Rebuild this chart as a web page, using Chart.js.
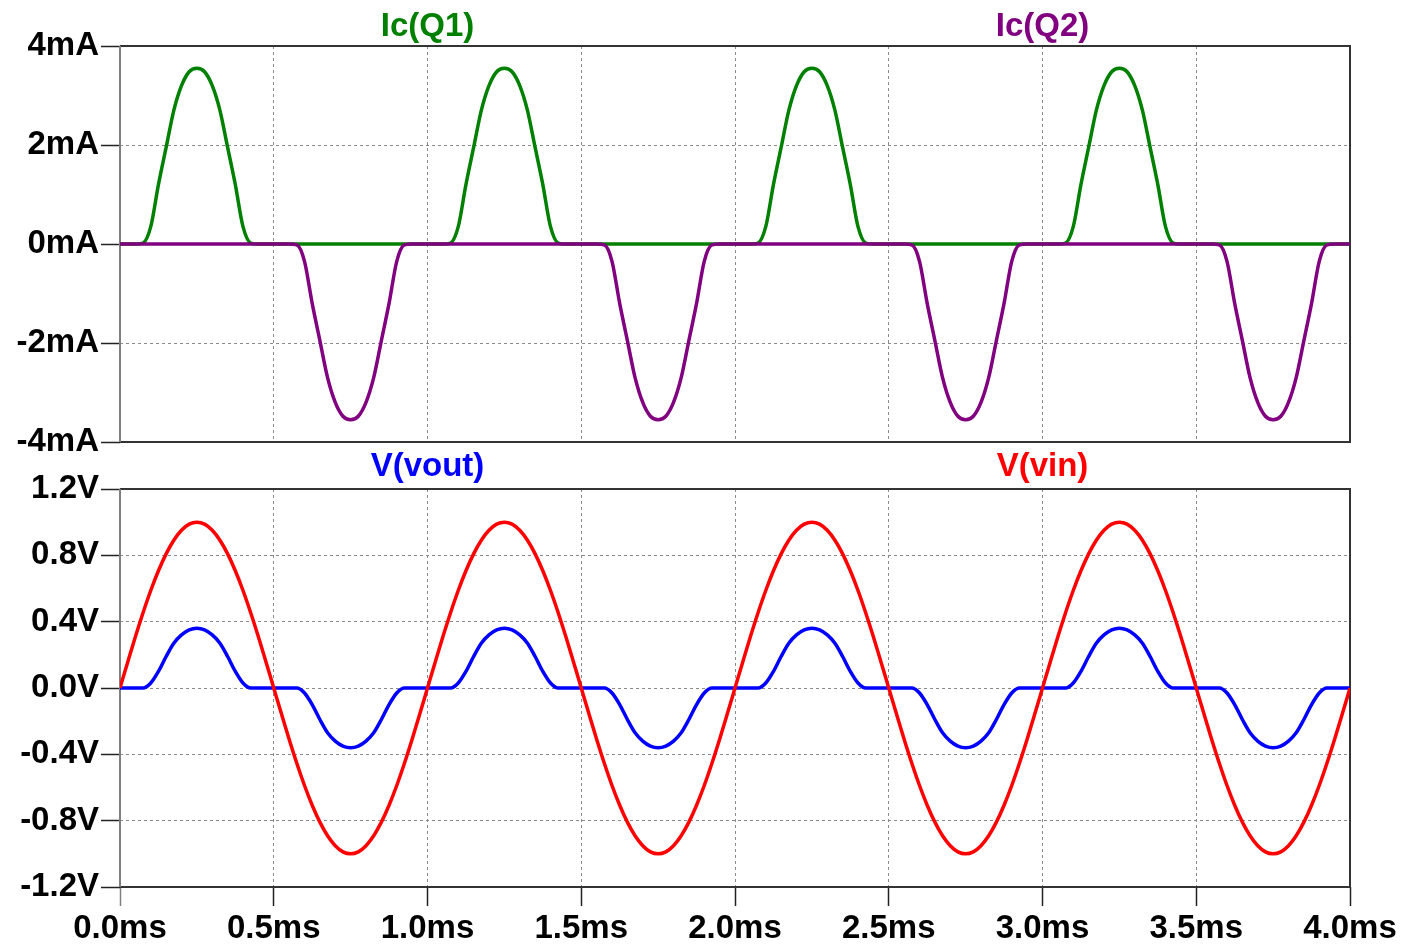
<!DOCTYPE html>
<html>
<head>
<meta charset="utf-8">
<script src="https://cdn.jsdelivr.net/npm/chart.js@4/dist/chart.umd.min.js"></script>
<style>
  body { margin: 0; background: #fff; }
  #wrap { position: relative; width: 1402px; height: 946px; }
  #topChart { position: absolute; left: 0; top: 0; }
  #bottomChart { position: absolute; left: 0; top: 446px; }
</style>
</head>
<body>
<div id="wrap">
  <canvas id="topChart" width="1402" height="464"></canvas>
  <canvas id="bottomChart" width="1402" height="500"></canvas>
</div>
<script>
// time axis, ms
const timeMs = [
  0,0.025,0.05,0.075,0.1,0.125,0.15,0.175,0.2,0.225,0.25,0.275,0.3,0.325,0.35,0.375,0.4,0.425,0.45,0.475,
  0.5,0.525,0.55,0.575,0.6,0.625,0.65,0.675,0.7,0.725,0.75,0.775,0.8,0.825,0.85,0.875,0.9,0.925,0.95,0.975,
  1,1.025,1.05,1.075,1.1,1.125,1.15,1.175,1.2,1.225,1.25,1.275,1.3,1.325,1.35,1.375,1.4,1.425,1.45,1.475,
  1.5,1.525,1.55,1.575,1.6,1.625,1.65,1.675,1.7,1.725,1.75,1.775,1.8,1.825,1.85,1.875,1.9,1.925,1.95,1.975,
  2,2.025,2.05,2.075,2.1,2.125,2.15,2.175,2.2,2.225,2.25,2.275,2.3,2.325,2.35,2.375,2.4,2.425,2.45,2.475,
  2.5,2.525,2.55,2.575,2.6,2.625,2.65,2.675,2.7,2.725,2.75,2.775,2.8,2.825,2.85,2.875,2.9,2.925,2.95,2.975,
  3,3.025,3.05,3.075,3.1,3.125,3.15,3.175,3.2,3.225,3.25,3.275,3.3,3.325,3.35,3.375,3.4,3.425,3.45,3.475,
  3.5,3.525,3.55,3.575,3.6,3.625,3.65,3.675,3.7,3.725,3.75,3.775,3.8,3.825,3.85,3.875,3.9,3.925,3.95,3.975,
  4
];

// Ic(Q1), mA
const icQ1 = [
  0,0,0,0.02,0.35,1.2,1.95,2.7,3.2,3.48,3.55,3.48,3.2,2.7,1.95,1.2,0.35,0.02,0,0,
  0,0,0,0,0,0,0,0,0,0,0,0,0,0,0,0,0,0,0,0,
  0,0,0,0.02,0.35,1.2,1.95,2.7,3.2,3.48,3.55,3.48,3.2,2.7,1.95,1.2,0.35,0.02,0,0,
  0,0,0,0,0,0,0,0,0,0,0,0,0,0,0,0,0,0,0,0,
  0,0,0,0.02,0.35,1.2,1.95,2.7,3.2,3.48,3.55,3.48,3.2,2.7,1.95,1.2,0.35,0.02,0,0,
  0,0,0,0,0,0,0,0,0,0,0,0,0,0,0,0,0,0,0,0,
  0,0,0,0.02,0.35,1.2,1.95,2.7,3.2,3.48,3.55,3.48,3.2,2.7,1.95,1.2,0.35,0.02,0,0,
  0,0,0,0,0,0,0,0,0,0,0,0,0,0,0,0,0,0,0,0,
  0
];

// Ic(Q2), mA
const icQ2 = [
  0,0,0,0,0,0,0,0,0,0,0,0,0,0,0,0,0,0,0,0,
  0,0,0,-0.02,-0.35,-1.2,-1.95,-2.7,-3.2,-3.48,-3.55,-3.48,-3.2,-2.7,-1.95,-1.2,-0.35,-0.02,0,0,
  0,0,0,0,0,0,0,0,0,0,0,0,0,0,0,0,0,0,0,0,
  0,0,0,-0.02,-0.35,-1.2,-1.95,-2.7,-3.2,-3.48,-3.55,-3.48,-3.2,-2.7,-1.95,-1.2,-0.35,-0.02,0,0,
  0,0,0,0,0,0,0,0,0,0,0,0,0,0,0,0,0,0,0,0,
  0,0,0,-0.02,-0.35,-1.2,-1.95,-2.7,-3.2,-3.48,-3.55,-3.48,-3.2,-2.7,-1.95,-1.2,-0.35,-0.02,0,0,
  0,0,0,0,0,0,0,0,0,0,0,0,0,0,0,0,0,0,0,0,
  0,0,0,-0.02,-0.35,-1.2,-1.95,-2.7,-3.2,-3.48,-3.55,-3.48,-3.2,-2.7,-1.95,-1.2,-0.35,-0.02,0,0,
  0
];

// V(vout), V
const vOut = [
  0,0,0,0,0.03,0.10,0.19,0.27,0.32,0.35,0.36,0.35,0.32,0.27,0.19,0.10,0.03,0,0,0,
  0,0,0,0,-0.03,-0.10,-0.19,-0.27,-0.32,-0.35,-0.36,-0.35,-0.32,-0.27,-0.19,-0.10,-0.03,0,0,0,
  0,0,0,0,0.03,0.10,0.19,0.27,0.32,0.35,0.36,0.35,0.32,0.27,0.19,0.10,0.03,0,0,0,
  0,0,0,0,-0.03,-0.10,-0.19,-0.27,-0.32,-0.35,-0.36,-0.35,-0.32,-0.27,-0.19,-0.10,-0.03,0,0,0,
  0,0,0,0,0.03,0.10,0.19,0.27,0.32,0.35,0.36,0.35,0.32,0.27,0.19,0.10,0.03,0,0,0,
  0,0,0,0,-0.03,-0.10,-0.19,-0.27,-0.32,-0.35,-0.36,-0.35,-0.32,-0.27,-0.19,-0.10,-0.03,0,0,0,
  0,0,0,0,0.03,0.10,0.19,0.27,0.32,0.35,0.36,0.35,0.32,0.27,0.19,0.10,0.03,0,0,0,
  0,0,0,0,-0.03,-0.10,-0.19,-0.27,-0.32,-0.35,-0.36,-0.35,-0.32,-0.27,-0.19,-0.10,-0.03,0,0,0,
  0
];

// V(vin), V
const vIn = [
  0,0.156,0.309,0.454,0.588,0.707,0.809,0.891,0.951,0.988,1,0.988,0.951,0.891,0.809,0.707,0.588,0.454,0.309,0.156,
  0,-0.156,-0.309,-0.454,-0.588,-0.707,-0.809,-0.891,-0.951,-0.988,-1,-0.988,-0.951,-0.891,-0.809,-0.707,-0.588,-0.454,-0.309,-0.156,
  0,0.156,0.309,0.454,0.588,0.707,0.809,0.891,0.951,0.988,1,0.988,0.951,0.891,0.809,0.707,0.588,0.454,0.309,0.156,
  0,-0.156,-0.309,-0.454,-0.588,-0.707,-0.809,-0.891,-0.951,-0.988,-1,-0.988,-0.951,-0.891,-0.809,-0.707,-0.588,-0.454,-0.309,-0.156,
  0,0.156,0.309,0.454,0.588,0.707,0.809,0.891,0.951,0.988,1,0.988,0.951,0.891,0.809,0.707,0.588,0.454,0.309,0.156,
  0,-0.156,-0.309,-0.454,-0.588,-0.707,-0.809,-0.891,-0.951,-0.988,-1,-0.988,-0.951,-0.891,-0.809,-0.707,-0.588,-0.454,-0.309,-0.156,
  0,0.156,0.309,0.454,0.588,0.707,0.809,0.891,0.951,0.988,1,0.988,0.951,0.891,0.809,0.707,0.588,0.454,0.309,0.156,
  0,-0.156,-0.309,-0.454,-0.588,-0.707,-0.809,-0.891,-0.951,-0.988,-1,-0.988,-0.951,-0.891,-0.809,-0.707,-0.588,-0.454,-0.309,-0.156,
  0
];

// ticks
const msTicks = [0, 0.5, 1, 1.5, 2, 2.5, 3, 3.5, 4];
const msTickLabels = ['0.0ms','0.5ms','1.0ms','1.5ms','2.0ms','2.5ms','3.0ms','3.5ms','4.0ms'];
const mATicks = [-4, -2, 0, 2, 4];
const mATickLabels = ['-4mA','-2mA','0mA','2mA','4mA'];
const vTicks = [-1.2, -0.8, -0.4, 0, 0.4, 0.8, 1.2];
const vTickLabels = ['-1.2V','-0.8V','-0.4V','0.0V','0.4V','0.8V','1.2V'];

const FONT = { family: "'Liberation Sans', Arial, sans-serif", size: 33, weight: 'bold' };

function toPoints(ys) {
  return timeMs.map((t, i) => ({ x: t, y: ys[i] }));
}

// frame around the plot area
const framePlugin = {
  id: 'frame',
  beforeDatasetsDraw(chart) {
    const { ctx, chartArea: a } = chart;
    ctx.save();
    ctx.lineWidth = 2;
    ctx.strokeStyle = '#333';
    ctx.beginPath();
    ctx.moveTo(a.left, a.top);
    ctx.lineTo(a.right, a.top);
    ctx.lineTo(a.right, a.bottom);
    ctx.lineTo(a.left, a.bottom);
    ctx.stroke();
    ctx.strokeStyle = '#808080';
    ctx.beginPath();
    ctx.moveTo(a.left, a.top);
    ctx.lineTo(a.left, a.bottom);
    ctx.stroke();
    ctx.restore();
  }
};

// trace names above each pane
const traceLabelPlugin = {
  id: 'traceLabels',
  afterDraw(chart, args, opts) {
    const { ctx, chartArea: a } = chart;
    const xs = chart.scales.x;
    ctx.save();
    ctx.font = 'bold 33px "Liberation Sans", Arial, sans-serif';
    ctx.textAlign = 'center';
    ctx.textBaseline = 'middle';
    chart.data.datasets.forEach(ds => {
      ctx.fillStyle = ds.borderColor;
      ctx.fillText(ds.label, xs.getPixelForValue(ds.labelAt), a.top - opts.offset);
    });
    ctx.restore();
  }
};

function edgeColor(ctx, min, max) {
  const v = ctx.tick ? ctx.tick.value : null;
  if (v === null || Math.abs(v - min) < 1e-9 || Math.abs(v - max) < 1e-9) return 'rgba(0,0,0,0)';
  return '#8a8a8a';
}

function yAxis(min, max, ticks, labels) {
  return {
    position: 'left',
    min: min, max: max,
    afterBuildTicks: s => { s.ticks = ticks.map(v => ({ value: v })); },
    afterFit: s => { s.width = 120; },
    ticks: {
      font: FONT, color: '#000', padding: 2,
      callback: (v) => labels[ticks.findIndex(t => Math.abs(t - v) < 1e-9)]
    },
    grid: {
      color: c => edgeColor(c, min, max),
      tickColor: '#222', tickWidth: 1.5, tickLength: 19, lineWidth: 1
    },
    border: { display: false, dash: [3, 3] }
  };
}

function xAxis(showLabels) {
  return {
    type: 'linear',
    min: 0, max: 4,
    afterBuildTicks: s => { s.ticks = msTicks.map(v => ({ value: v })); },
    afterFit: s => { s.height = showLabels ? 55 : 0; },
    ticks: {
      display: showLabels, font: FONT, color: '#000', padding: 3,
      maxRotation: 0, autoSkip: false,
      callback: (v) => msTickLabels[msTicks.findIndex(t => Math.abs(t - v) < 1e-9)]
    },
    grid: {
      color: c => edgeColor(c, 0, 4),
      drawTicks: showLabels,
      tickColor: c => (c.tick && c.tick.value === 0 ? '#808080' : '#222'),
      tickWidth: 1.5, tickLength: 19, lineWidth: 1
    },
    border: { display: false, dash: [3, 3] }
  };
}

function lineSet(label, data, color, order, labelAt) {
  return {
    label: label, data: toPoints(data), borderColor: color,
    borderWidth: 3.5, pointRadius: 0, cubicInterpolationMode: 'monotone',
    order: order, labelAt: labelAt
  };
}

Chart.defaults.devicePixelRatio = 1;

new Chart(document.getElementById('topChart'), {
  type: 'line',
  data: {
    datasets: [
      lineSet('Ic(Q1)', icQ1, '#008000', 1, 1.0),
      lineSet('Ic(Q2)', icQ2, '#800080', 0, 3.0)
    ]
  },
  options: {
    responsive: false, animation: false,
    layout: { padding: { top: 46, right: 52, bottom: 22, left: 0 } },
    plugins: { legend: { display: false }, tooltip: { enabled: false }, traceLabels: { offset: 19 } },
    scales: { x: xAxis(false), y: yAxis(-4, 4, mATicks, mATickLabels) }
  },
  plugins: [framePlugin, traceLabelPlugin]
});

new Chart(document.getElementById('bottomChart'), {
  type: 'line',
  data: {
    datasets: [
      lineSet('V(vout)', vOut, '#0000ff', 1, 1.0),
      lineSet('V(vin)', vIn, '#ff0000', 0, 3.0)
    ]
  },
  options: {
    responsive: false, animation: false,
    layout: { padding: { top: 43, right: 52, bottom: 4, left: 0 } },
    plugins: { legend: { display: false }, tooltip: { enabled: false }, traceLabels: { offset: 22 } },
    scales: { x: xAxis(true), y: yAxis(-1.2, 1.2, vTicks, vTickLabels) }
  },
  plugins: [framePlugin, traceLabelPlugin]
});
</script>
</body>
</html>
